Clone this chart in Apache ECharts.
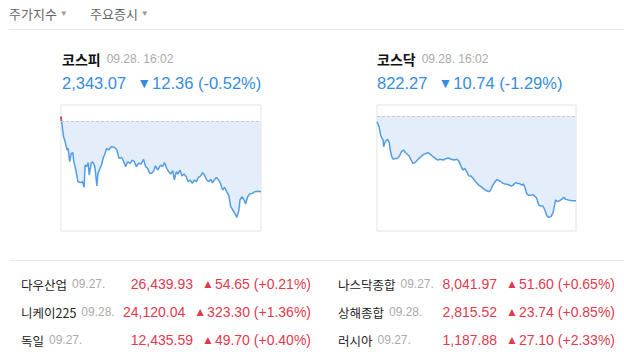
<!DOCTYPE html>
<html><head><meta charset="utf-8">
<script src="https://cdn.jsdelivr.net/npm/echarts@6/dist/echarts.min.js"></script>
<style>html,body{margin:0;padding:0;background:#fff}#c{width:624px;height:364px}</style>
</head><body><div id="c"></div><script>
// ---------- data ----------
const tabs = ['주가지수', '주요증시'];

const kospiPrevClose = 2355.43;
const kospiTimes = [0,1,5,8,12,14,17,20,23,25,29,33,38,42,45,47,50,53,55,59,62,66,70,72,76,79,83,85,89,93,98,104,109,113,118,122,126,130,135,139,143,147,151,156,161,165,169,173,177,181,184,189,194,198,202,206,210,214,218,221,225,228,232,236,240,244,248,252,256,260,264,268,272,276,280,284,288,292,295,299,303,307,311,315,319,323,327,331,335,339,343,347,349,353,357,360,364,368,373,378,385,390];
const kospiValues = [2356.19,2355.40,2352.69,2351.82,2350.36,2350.65,2348.32,2349.78,2349.89,2348.32,2346.86,2344.82,2344.65,2344.82,2343.83,2347.74,2347.45,2348.15,2345.99,2348.15,2348.26,2347.45,2344.07,2346.28,2347.15,2347.74,2349.19,2349.49,2350.65,2350.36,2350.94,2350.83,2350.36,2348.90,2349.08,2348.44,2347.45,2348.32,2348.03,2348.61,2348.32,2347.45,2348.03,2347.91,2348.73,2347.45,2347.15,2346.28,2346.28,2346.75,2347.56,2346.86,2347.74,2347.45,2348.15,2347.15,2346.57,2346.16,2346.75,2345.12,2346.57,2346.16,2346.86,2345.81,2346.16,2345.70,2344.82,2345.12,2344.53,2345.12,2344.82,2345.58,2345.81,2346.40,2345.99,2345.12,2344.82,2345.23,2344.65,2345.12,2345.58,2345.12,2344.53,2343.37,2343.83,2343.08,2342.49,2340.45,2339.87,2339.29,2338.59,2339.87,2341.62,2342.20,2341.62,2340.92,2342.20,2342.67,2342.78,2343.08,2343.13,2343.07];

const kosdaqPrevClose = 833.01;
const kosdaqTimes = [0,4,7,9,12,13,16,19,21,24,26,29,32,36,40,44,48,52,56,59,63,67,70,74,78,82,86,91,97,100,104,108,112,116,120,124,130,135,140,145,151,156,160,164,168,172,176,180,184,188,192,196,200,204,208,212,215,219,222,225,229,233,235,239,243,247,251,255,259,263,267,271,275,279,283,287,290,293,297,301,305,309,313,317,321,325,329,333,337,341,345,348,350,354,358,362,366,370,375,382,390];
const kosdaqValues = [832.29,831.66,830.60,830.31,829.97,829.12,829.76,829.97,830.05,829.63,828.70,827.85,827.52,827.64,827.64,827.94,828.49,828.70,828.36,828.19,827.94,827.43,827.01,827.09,827.35,827.64,827.85,828.15,828.28,828.36,828.19,827.94,827.77,827.52,827.43,827.52,827.43,827.60,827.69,827.52,827.43,827.52,827.35,826.75,826.16,826.37,825.95,825.40,825.40,825.11,824.77,824.47,824.22,824.05,823.84,823.63,823.54,823.42,823.54,823.97,824.47,824.81,824.98,824.81,824.68,824.47,824.39,824.35,824.26,824.13,824.26,824.56,824.47,824.47,824.26,824.39,823.97,823.20,822.95,822.95,823.04,822.87,822.57,821.72,821.60,821.60,821.09,820.33,820.16,820.25,820.75,821.72,822.36,822.15,822.28,822.44,822.70,822.44,822.36,822.27,822.27];

const indexNames = ['코스피', '코스닥'];
const indexStamps = ['09.28. 16:02', '09.28. 16:02'];
const indexPrices = ['2,343.07', '822.27'];
const indexChanges = ['12.36', '10.74'];
const indexPcts = ['(-0.52%)', '(-1.29%)'];

const worldNames = ['다우산업', '니케이225', '독일', '나스닥종합', '상해종합', '러시아'];
const worldDates = ['09.27.', '09.28.', '09.27.', '09.27.', '09.28.', '09.27.'];
const worldPrices = ['26,439.93', '24,120.04', '12,435.59', '8,041.97', '2,815.52', '1,187.88'];
const worldChanges = ['54.65', '323.30', '49.70', '51.60', '23.74', '27.10'];
const worldPcts = ['(+0.21%)', '(+1.36%)', '(+0.40%)', '(+0.65%)', '(+0.85%)', '(+2.33%)'];

// ---------- styling ----------
const BLUE = '#368de0', RED = '#e03a4e', LINE = '#559de3', FILL = '#e4eefa', GRAY = '#aaaaaa';
const FONT = '"Liberation Sans", "Noto Sans CJK KR", sans-serif';
const KFONT = '"Noto Sans CJK KR", "Liberation Sans", sans-serif';

function pairs(t, v) { return t.map((x, i) => [x, v[i]]); }

const chart = echarts.init(document.getElementById('c'), null, { renderer: 'svg' });

const graphic = [];
graphic.push({ type: 'line', shape: { x1: 9, y1: 29.5, x2: 624, y2: 29.5 }, style: { stroke: '#e6e6e6', lineWidth: 1 } });
graphic.push({ type: 'line', shape: { x1: 9, y1: 260.5, x2: 624, y2: 260.5 }, style: { stroke: '#e6e6e6', lineWidth: 1 } });
const tabX = [9, 90];
tabs.forEach((t, i) => {
  graphic.push({ type: 'text', x: tabX[i], y: 13, style: {
    text: '{t|' + t + '}{a|▼}', textVerticalAlign: 'middle',
    rich: { t: { fontFamily: KFONT, fontSize: 13, fill: '#666' }, a: { fontFamily: FONT, fontSize: 8, fill: '#999', padding: [0, 0, 0, 3] } }
  }});
});
const headX = [62, 377];
indexNames.forEach((n, i) => {
  graphic.push({ type: 'text', x: headX[i], y: 59, style: {
    text: '{n|' + n + '}{d|' + indexStamps[i] + '}', textVerticalAlign: 'middle',
    rich: { n: { fontFamily: KFONT, fontSize: 14, fontWeight: 'bold', fill: '#111' }, d: { fontFamily: FONT, fontSize: 12, fill: GRAY, padding: [0, 0, 0, 6] } }
  }});
  graphic.push({ type: 'text', x: headX[i], y: 83, style: {
    text: '{p|' + indexPrices[i] + '}{t|▼}{c|' + indexChanges[i] + ' ' + indexPcts[i] + '}', textVerticalAlign: 'middle',
    rich: { p: { fontFamily: FONT, fontSize: 16.5, fill: BLUE }, t: { fontFamily: FONT, fontSize: 14, fill: BLUE, padding: [0, 1, 0, 11] }, c: { fontFamily: FONT, fontSize: 16.5, fill: BLUE } }
  }});
});
const rowY = [284, 312, 340];
worldNames.forEach((n, i) => {
  const col = i < 3 ? 0 : 1, row = i % 3;
  const nx = col === 0 ? 21 : 338, rx = col === 0 ? 311 : 615;
  graphic.push({ type: 'text', x: nx, y: rowY[row], style: {
    text: '{n|' + n + '}{d|' + worldDates[i] + '}', textVerticalAlign: 'middle',
    rich: { n: { fontFamily: KFONT, fontSize: 12.5, fill: '#222' }, d: { fontFamily: FONT, fontSize: 12, fill: GRAY, padding: [0, 0, 0, 5] } }
  }});
  graphic.push({ type: 'text', x: rx, y: rowY[row], style: {
    text: '{p|' + worldPrices[i] + '}{t|▲}{c|' + worldChanges[i] + ' ' + worldPcts[i] + '}', textAlign: 'right', textVerticalAlign: 'middle',
    rich: { p: { fontFamily: FONT, fontSize: 14, fill: RED }, t: { fontFamily: FONT, fontSize: 12, fill: RED, padding: [0, 1, 0, 9] }, c: { fontFamily: FONT, fontSize: 14, fill: RED } }
  }});
});

function panelSeries(idx, times, values, prev) {
  const all = pairs(times, values);
  // the opening tick above the previous close is drawn red
  const up = [];
  for (let k = 0; k < all.length - 1 && all[k][1] > prev; k++) { up.push(all[k], all[k + 1]); }
  return [
    { type: 'line', xAxisIndex: idx, yAxisIndex: idx, data: all, symbol: 'none', silent: true,
      lineStyle: { width: 0 }, areaStyle: { color: FILL, opacity: 1, origin: prev }, z: 1 },
    { type: 'line', xAxisIndex: idx, yAxisIndex: idx, data: all, symbol: 'none', silent: true,
      lineStyle: { width: 1.5, color: LINE }, itemStyle: { color: LINE }, z: 3,
      markLine: { symbol: 'none', silent: true, label: { show: false }, lineStyle: { type: [3, 2], color: '#c8c8c8', width: 1 }, data: [{ yAxis: prev }] } },
    { type: 'line', xAxisIndex: idx, yAxisIndex: idx, data: up, symbol: 'none', silent: true,
      lineStyle: { width: 1.5, color: '#e03a3a' }, z: 4 }
  ];
}

chart.setOption({
  animation: false,
  grid: [
    { left: 61, top: 105, width: 200, height: 126, show: true, borderColor: '#e3e3e3', borderWidth: 1, backgroundColor: 'transparent' },
    { left: 377, top: 105, width: 199, height: 126, show: true, borderColor: '#e3e3e3', borderWidth: 1, backgroundColor: 'transparent' }
  ],
  xAxis: [
    { type: 'value', gridIndex: 0, min: 0, max: 390, show: false },
    { type: 'value', gridIndex: 1, min: 0, max: 390, show: false }
  ],
  yAxis: [
    { type: 'value', gridIndex: 0, min: 2336.2, max: 2358.23, show: false, scale: true },
    { type: 'value', gridIndex: 1, min: 818.43, max: 834.41, show: false, scale: true }
  ],
  series: panelSeries(0, kospiTimes, kospiValues, kospiPrevClose).concat(panelSeries(1, kosdaqTimes, kosdaqValues, kosdaqPrevClose)),
  graphic: graphic
});
</script></body></html>
